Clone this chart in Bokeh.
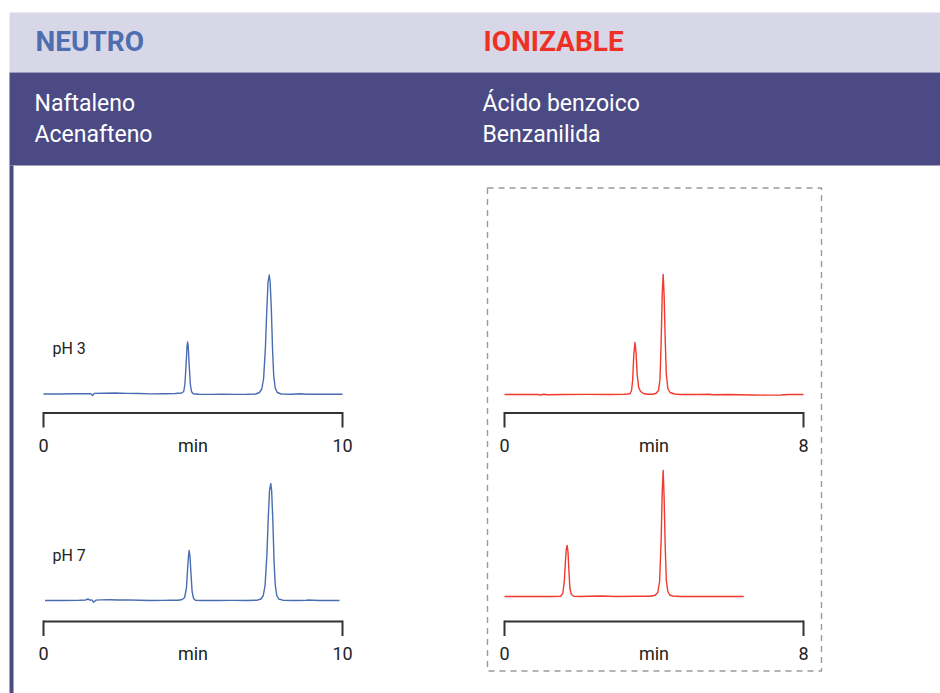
from bokeh.plotting import figure
from bokeh.models import Range1d
from bokeh.core.properties import value
from bokeh.embed import file_html
from bokeh.resources import INLINE

# ---------------- data ----------------
group_titles = ["NEUTRO", "IONIZABLE"]
group_compounds = [["Naftaleno", "Acenafteno"], ["Ácido benzoico", "Benzanilida"]]
ph_labels = ["pH 3", "pH 7"]
axis_unit = "min"
time_span = [10, 8]          # minutes: neutral, ionizable

# pH 3, neutral compounds (time in min, signal in mAU)
t_ph3_neu = [0.00, 0.50, 1.00, 1.50, 1.58, 1.64, 1.70, 2.00, 2.40, 2.80,
             3.20, 3.60, 4.00, 4.40, 4.62, 4.69, 4.73, 4.77, 4.80, 4.82,
             4.84, 4.87, 4.91, 4.95, 5.00, 5.20, 5.60, 6.00, 6.40, 6.80,
             7.10, 7.22, 7.30, 7.36, 7.42, 7.47, 7.51, 7.55, 7.58, 7.62,
             7.66, 7.70, 7.75, 7.82, 7.95, 8.30, 8.60, 8.80, 9.20, 9.60, 10.00]
s_ph3_neu = [0.0, 0.0, 0.2, 0.3, 0.2, -1.5, 0.6, 0.8, 1.0, 0.6,
             0.5, 0.1, 0.2, 0.5, 1.0, 2.5, 10, 30, 48, 52,
             48, 30, 10, 2.5, 0.3, -0.3, -0.4, -0.3, -0.4, -0.3,
             0.0, 1.5, 5, 15, 45, 85, 112, 119, 112, 85,
             45, 18, 6, 1.5, 0.0, -0.3, 0.2, -0.3, -0.2, -0.3, -0.3]

# pH 7, neutral compounds
t_ph7_neu = [0.05, 0.60, 1.20, 1.40, 1.48, 1.56, 1.62, 1.68, 1.76, 1.90,
             2.20, 2.50, 2.80, 3.20, 3.60, 4.00, 4.25, 4.50, 4.64, 4.72,
             4.78, 4.82, 4.85, 4.873, 4.90, 4.93, 4.97, 5.02, 5.08, 5.30,
             5.80, 6.30, 6.80, 7.15, 7.27, 7.35, 7.41, 7.47, 7.52, 7.56,
             7.60, 7.63, 7.67, 7.71, 7.75, 7.80, 7.87, 8.00, 8.40, 8.80,
             8.85, 9.20, 9.90]
s_ph7_neu = [0.0, 0.0, 0.2, 0.4, 1.5, 0.3, 0.6, -1.8, 0.4, 0.6,
             0.8, 0.5, 0.6, 0.2, 0.0, 0.1, 0.4, 0.2, 1.0, 3,
             12, 32, 45, 50, 44, 28, 9, 2, 0.3, 0.0,
             0.0, 0.1, 0.0, 0.3, 1.5, 5, 15, 45, 85, 110,
             117, 110, 80, 40, 16, 5, 1.5, 0.3, 0.0, 0.3,
             0.5, 0.0, 0.0]

# pH 3, ionizable compounds
t_ph3_ion = [0.00, 0.60, 0.90, 0.95, 1.05, 1.15, 1.60, 2.20, 2.80, 3.20,
             3.30, 3.36, 3.40, 3.43, 3.46, 3.49, 3.52, 3.55, 3.59, 3.64,
             3.72, 3.82, 3.95, 4.05, 4.12, 4.16, 4.19, 4.22, 4.245, 4.27,
             4.30, 4.33, 4.37, 4.43, 4.55, 4.70, 5.20, 5.50, 5.55, 6.00,
             6.60, 7.00, 7.40, 7.60, 8.00]
s_ph3_ion = [0.0, 0.0, 0.1, -0.5, 0.2, -0.3, 0.0, 0.1, 0.0, 0.2,
             0.5, 1.0, 4, 15, 40, 52, 42, 20, 7, 3,
             1, 0.3, 0.3, 1.0, 4, 15, 50, 100, 120, 100,
             55, 20, 6, 2, 0.5, 0.0, 0.0, 0.3, -0.2, 0.0,
             -0.5, -0.6, -0.5, 0.0, 0.0]

# pH 7, ionizable compounds
t_ph7_ion = [0.00, 0.80, 1.30, 1.50, 1.56, 1.60, 1.63, 1.655, 1.677, 1.70,
             1.725, 1.75, 1.79, 1.85, 2.00, 2.57, 3.00, 3.55, 3.90, 4.03,
             4.10, 4.15, 4.19, 4.22, 4.245, 4.27, 4.30, 4.33, 4.37, 4.42,
             4.50, 4.70, 5.20, 5.80, 6.40]
s_ph7_ion = [0.0, 0.0, 0.0, 0.3, 3, 15, 35, 48, 51, 44,
             25, 8, 2, 0.3, 0.0, 0.5, 0.0, 0.3, 0.3, 1.2,
             4, 15, 55, 105, 126, 100, 50, 16, 5, 1.5,
             0.5, 0.0, 0.0, 0.0, 0.0]

# ---------------- styles / layout ----------------
FONT = value("Roboto")
C_LIGHT = "#D8D7E8"
C_DARK = "#4B4A84"
C_BLUE_T = "#4E6EAF"
C_RED_T = "#EE3124"
C_BLUE = "#4A6CB0"
C_RED = "#F03A2E"
C_AXIS = "#333333"
C_TXT = "#222222"

W, H = 940, 693   # screenshot coordinates
SHIFT = 0.35      # baseline correction (fraction of font size)


def by(y, size):
    return y - SHIFT * size


p = figure(width=W, height=H,
           x_range=Range1d(0, W), y_range=Range1d(H, 0),
           x_axis_location=None, y_axis_location=None,
           toolbar_location=None, output_backend="svg",
           min_border=0, outline_line_color=None, background_fill_color="white")
p.xgrid.visible = False
p.ygrid.visible = False

# header bands and left bar
p.quad(left=[9], right=[940], top=[12], bottom=[72], fill_color=C_LIGHT, line_color=None)
p.quad(left=[9], right=[940], top=[72], bottom=[165], fill_color=C_DARK, line_color=None)
p.quad(left=[9], right=[13], top=[165], bottom=[693], fill_color=C_DARK, line_color=None)

# header texts
col_x = [35, 483]
for i in range(2):
    p.text(x=[col_x[i]], y=[by(50.5, 28)], text=[group_titles[i]], text_font=FONT,
           text_font_size="28px", text_font_style="bold",
           text_color=[C_BLUE_T, C_RED_T][i], text_baseline="alphabetic")
    p.text(x=[col_x[i] - 1, col_x[i] - 1], y=[by(111, 23), by(142.5, 23)],
           text=group_compounds[i], text_font=FONT, text_font_size="23px",
           text_color="white", text_baseline="alphabetic")

# dashed frame around ionizable
p.quad(left=[487], right=[821], top=[187.5], bottom=[670.5], fill_color=None,
       line_color="#9A9A9A", line_width=1.4, line_dash="6 5")

# panels: (name, t, s, span, x0, x1, baseline, axis_y, label_y, color, ph)
panels = [
    ("n3", t_ph3_neu, s_ph3_neu, time_span[0], 43, 342, 393.5, 412.5, 451, C_BLUE, ph_labels[0]),
    ("n7", t_ph7_neu, s_ph7_neu, time_span[0], 43, 342, 600.0, 621.0, 659.5, C_BLUE, ph_labels[1]),
    ("i3", t_ph3_ion, s_ph3_ion, time_span[1], 504, 803, 394.0, 412.5, 451, C_RED, None),
    ("i7", t_ph7_ion, s_ph7_ion, time_span[1], 504, 803, 596.0, 621.0, 659.5, C_RED, None),
]
K = 1.0  # px per mAU
for name, t, s, span, x0, x1, base, ay, ly, col, ph in panels:
    ppm = (x1 - x0) / span
    p.extra_x_ranges[name] = Range1d((0 - x0) / ppm, (W - x0) / ppm)
    p.extra_y_ranges[name] = Range1d((base - H) / K, (base - 0) / K)
    p.line(t, s, x_range_name=name, y_range_name=name, line_color=col,
           line_width=1.4, line_join="round")
    # bracket axis
    p.segment(x0=[0], x1=[span], y0=[ay], y1=[ay], x_range_name=name,
              line_color=C_AXIS, line_width=2)
    p.segment(x0=[0, span], x1=[0, span], y0=[ay - 1, ay - 1], y1=[ay + 14.5, ay + 14.5],
              x_range_name=name, line_color=C_AXIS, line_width=2)
    p.text(x=[0, span / 2, span], y=[by(ly, 18)] * 3, text=["0", axis_unit, str(span)],
           x_range_name=name, text_font=FONT, text_font_size="18px",
           text_color=C_TXT, text_align="center", text_baseline="alphabetic")
    if ph:
        p.text(x=[52], y=[by(base - 39.5, 16)], text=[ph], text_font=FONT,
               text_font_size="16px", text_color=C_TXT, text_baseline="alphabetic")

open("out.html", "w").write(file_html(p, INLINE))
